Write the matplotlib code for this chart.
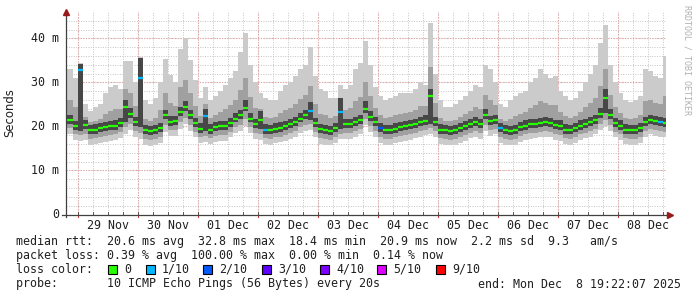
import datetime as dt
import numpy as np
import matplotlib
matplotlib.use('Agg')
import matplotlib.pyplot as plt
import matplotlib.dates as mdates
from matplotlib.patches import Rectangle

# 2 hour steps, 28 Nov 20:00 .. 08 Dec 18:00
median = [21.5, 20.0, 32.8, 20.3, 19.1, 19.3, 19.6, 19.8, 20.0, 20.2, 20.7, 24.5,
          22.9, 21.0, 31.0, 19.1, 18.9, 19.1, 19.6, 22.5, 21.1, 21.2, 23.2, 24.4,
          22.5, 20.8, 19.5, 22.4, 19.3, 19.8, 20.1, 20.1, 20.8, 21.8, 22.5, 24.3,
          21.8, 20.5, 21.5, 19.3, 19.2, 19.5, 19.7, 20.0, 20.5, 21.0, 21.8, 22.5,
          23.5, 20.8, 19.4, 19.1, 19.0, 19.6, 23.3, 20.5, 20.5, 21.0, 21.5, 24.0,
          22.2, 21.0, 19.6, 19.2, 19.2, 19.5, 19.8, 20.0, 20.3, 20.6, 21.0, 21.3,
          27.0, 21.0, 19.3, 19.2, 19.0, 19.1, 19.6, 20.1, 20.6, 21.0, 20.5, 22.5,
          21.2, 21.5, 19.6, 19.1, 19.0, 19.2, 19.8, 20.2, 20.5, 20.6, 20.8, 21.0,
          20.8, 20.3, 20.0, 19.3, 19.1, 19.6, 20.2, 20.6, 21.0, 21.5, 22.8, 26.5,
          22.5, 20.8, 20.2, 19.3, 19.1, 19.2, 19.6, 21.0, 21.5, 21.2, 21.0, 20.8]
loss = [0, 0, 1, 0, 0, 0, 0, 0, 0, 0, 0, 0,
        0, 0, 1, 0, 0, 0, 0, 0, 0, 0, 0, 0,
        0, 0, 0, 1, 0, 0, 0, 0, 0, 0, 0, 0,
        0, 0, 0, 1, 0, 0, 0, 0, 0, 0, 0, 0,
        1, 0, 0, 0, 0, 0, 1, 0, 0, 0, 0, 0,
        0, 0, 2, 0, 0, 0, 0, 0, 0, 0, 0, 0,
        0, 0, 0, 0, 0, 0, 0, 0, 0, 0, 0, 0,
        0, 0, 1, 0, 0, 0, 0, 0, 0, 0, 0, 0,
        0, 0, 0, 0, 0, 0, 0, 0, 0, 0, 0, 0,
        0, 0, 0, 0, 0, 0, 0, 0, 0, 0, 1, 0]
smoke_max = [33.0, 31.0, 34.5, 25.0, 23.6, 24.4, 25.2, 27.5, 29.0, 29.4, 28.6, 34.8,
             34.8, 30.0, 35.7, 25.9, 25.0, 26.4, 30.0, 35.3, 31.7, 30.0, 37.7, 40.0,
             35.0, 30.5, 26.5, 29.0, 26.0, 27.0, 28.0, 29.5, 31.0, 32.5, 37.0, 41.3,
             34.0, 30.0, 27.5, 26.5, 26.0, 26.0, 28.0, 29.5, 30.0, 31.5, 33.0, 34.0,
             38.0, 31.5, 28.5, 28.0, 26.4, 26.5, 29.5, 28.5, 29.5, 33.0, 34.5, 39.5,
             34.0, 29.0, 27.0, 26.0, 26.5, 27.0, 27.5, 27.5, 27.5, 28.5, 30.0, 29.5,
             43.5, 32.0, 26.0, 24.5, 24.5, 25.0, 26.0, 27.0, 28.0, 29.5, 29.0, 34.0,
             33.0, 30.0, 25.0, 24.5, 26.0, 27.0, 27.5, 28.0, 30.0, 31.0, 33.0, 32.0,
             31.0, 31.5, 28.0, 27.0, 26.0, 26.5, 28.0, 30.0, 32.0, 34.0, 39.0, 43.0,
             34.0, 30.0, 27.5, 26.0, 25.5, 26.0, 27.0, 33.0, 32.5, 31.5, 31.0, 36.0]
smoke_hi = [26.0, 24.4, 34.0, 22.2, 20.9, 21.3, 21.8, 22.9, 23.6, 23.9, 23.9, 28.6,
            27.7, 24.6, 34.5, 21.8, 21.3, 22.0, 23.8, 27.6, 25.3, 24.7, 29.0, 30.6,
            27.5, 24.7, 22.3, 25.0, 22.0, 22.7, 23.3, 23.9, 24.9, 26.1, 28.3, 31.1,
            26.7, 24.3, 23.9, 22.2, 21.9, 22.1, 23.0, 23.8, 24.3, 25.2, 26.3, 27.1,
            29.3, 25.1, 22.8, 22.7, 22.0, 22.4, 25.8, 23.7, 24.1, 25.8, 26.7, 30.2,
            26.9, 24.2, 22.6, 21.9, 22.1, 22.5, 22.9, 23.0, 23.2, 23.8, 24.6, 24.6,
            33.4, 25.4, 22.0, 21.3, 21.2, 21.5, 22.2, 22.9, 23.6, 24.4, 23.9, 27.1,
            25.9, 24.9, 21.8, 21.3, 21.8, 22.3, 22.9, 23.3, 24.3, 24.8, 25.7, 25.4,
            24.9, 24.8, 23.2, 22.4, 21.9, 22.4, 23.3, 24.4, 25.4, 26.5, 29.3, 33.1,
            27.1, 24.5, 23.1, 22.0, 21.7, 21.9, 22.6, 25.8, 25.9, 25.3, 25.0, 26.9]
dark_hi = [22.7, 21.2, 34.2, 21.5, 20.3, 20.5, 20.8, 21.0, 21.2, 21.4, 21.9, 26.0,
           24.3, 22.2, 35.5, 20.3, 20.1, 20.3, 20.8, 23.8, 22.3, 22.4, 24.5, 25.8,
           23.8, 22.0, 20.7, 24.0, 20.5, 21.0, 21.3, 21.3, 22.0, 23.0, 23.8, 26.0,
           23.0, 21.7, 23.5, 20.5, 20.4, 20.7, 20.9, 21.2, 21.7, 22.2, 23.0, 23.7,
           25.5, 22.0, 20.6, 20.3, 20.2, 20.8, 26.5, 21.7, 21.7, 22.2, 22.7, 25.8,
           23.4, 22.2, 20.8, 20.4, 20.4, 20.7, 21.0, 21.2, 21.5, 21.8, 22.2, 22.5,
           28.5, 22.2, 20.5, 20.4, 20.2, 20.3, 20.8, 21.3, 21.8, 22.2, 21.7, 24.0,
           22.4, 22.7, 20.8, 20.3, 20.2, 20.4, 21.0, 21.4, 21.7, 21.8, 22.0, 22.2,
           22.0, 21.5, 21.5, 20.5, 20.3, 20.8, 21.4, 21.8, 22.2, 22.7, 24.3, 28.5,
           24.0, 22.0, 21.4, 20.5, 20.3, 20.4, 20.8, 22.2, 22.7, 22.4, 22.2, 22.0]
dark_lo = [20.6, 19.1, 19.0, 19.4, 18.2, 18.4, 18.7, 18.9, 19.1, 19.3, 19.8, 21.0,
           22.0, 20.1, 19.8, 18.2, 18.0, 18.2, 18.7, 21.6, 20.2, 20.3, 22.3, 23.5,
           21.6, 19.9, 18.6, 19.0, 18.4, 18.9, 19.2, 19.2, 19.9, 20.9, 21.6, 23.4,
           20.9, 19.6, 19.5, 18.4, 18.3, 18.6, 18.8, 19.1, 19.6, 20.1, 20.9, 21.6,
           21.5, 19.9, 18.5, 18.2, 18.1, 18.7, 19.5, 19.6, 19.6, 20.1, 20.6, 23.1,
           21.3, 20.1, 18.7, 18.3, 18.3, 18.6, 18.9, 19.1, 19.4, 19.7, 20.1, 20.4,
           20.5, 20.1, 18.4, 18.3, 18.1, 18.2, 18.7, 19.2, 19.7, 20.1, 19.6, 21.6,
           20.3, 20.6, 18.7, 18.2, 18.1, 18.3, 18.9, 19.3, 19.6, 19.7, 19.9, 20.1,
           19.9, 19.4, 19.1, 18.4, 18.2, 18.7, 19.3, 19.7, 20.1, 20.6, 21.9, 23.0,
           21.6, 19.9, 19.3, 18.4, 18.2, 18.3, 18.7, 20.1, 20.6, 20.3, 20.1, 19.9]
smoke_lo = [19.6, 18.2, 18.0, 18.3, 17.2, 17.3, 17.6, 17.8, 18.0, 18.2, 18.7, 19.8,
            20.6, 19.0, 18.5, 17.1, 16.9, 17.1, 17.6, 20.3, 19.1, 19.2, 21.0, 22.0,
            20.3, 18.8, 17.5, 17.8, 17.3, 17.8, 18.1, 18.1, 18.8, 19.8, 20.3, 21.8,
            19.8, 18.5, 18.3, 17.3, 17.2, 17.5, 17.7, 18.0, 18.5, 19.0, 19.8, 20.3,
            20.5, 18.8, 17.4, 17.1, 17.0, 17.6, 18.4, 18.5, 18.5, 19.0, 19.5, 21.7,
            20.1, 19.0, 17.6, 17.2, 17.2, 17.5, 17.8, 18.0, 18.3, 18.6, 19.0, 19.3,
            19.6, 19.0, 17.3, 17.2, 17.0, 17.1, 17.6, 18.1, 18.6, 19.0, 18.5, 20.3,
            19.2, 19.5, 17.6, 17.1, 17.0, 17.2, 17.8, 18.2, 18.5, 18.6, 18.8, 19.0,
            18.8, 18.3, 18.0, 17.3, 17.1, 17.6, 18.2, 18.6, 19.0, 19.5, 20.6, 21.5,
            20.3, 18.8, 18.2, 17.3, 17.1, 17.2, 17.6, 19.0, 19.5, 19.2, 19.0, 18.8]
smoke_min = [18.2, 16.9, 16.8, 17.0, 15.9, 16.0, 16.3, 16.5, 16.7, 16.9, 17.4, 18.3,
             19.2, 17.7, 17.2, 15.8, 15.6, 15.8, 16.3, 18.8, 17.8, 17.9, 19.5, 20.5,
             18.9, 17.5, 16.2, 16.5, 16.0, 16.5, 16.8, 16.8, 17.5, 18.5, 19.0, 20.2,
             18.5, 17.2, 17.0, 16.0, 15.9, 16.2, 16.4, 16.7, 17.2, 17.7, 18.5, 19.0,
             19.2, 17.5, 16.1, 15.8, 15.7, 16.3, 17.1, 17.2, 17.2, 17.7, 18.2, 20.3,
             18.8, 17.7, 16.3, 15.9, 15.9, 16.2, 16.5, 16.7, 17.0, 17.3, 17.7, 18.0,
             18.3, 17.7, 16.0, 15.9, 15.7, 15.8, 16.3, 16.8, 17.3, 17.7, 17.2, 19.0,
             17.9, 18.2, 16.3, 15.8, 15.7, 15.9, 16.5, 16.9, 17.2, 17.3, 17.5, 17.7,
             17.5, 17.0, 16.7, 16.0, 15.8, 16.3, 16.9, 17.3, 17.7, 18.2, 19.2, 20.0,
             18.9, 17.5, 16.9, 16.0, 15.8, 15.9, 16.3, 17.7, 18.2, 17.9, 17.7, 17.5]

loss_colors = {0: '#26ff00', 1: '#00b8ff', 2: '#0059ff', 3: '#5e00ff',
               4: '#7e00ff', 5: '#dd00ff', 9: '#ff0000'}
legend_items = ['0', '1/10', '2/10', '3/10', '4/10', '5/10', '9/10']
legend_keys = [0, 1, 2, 3, 4, 5, 9]
day_labels = ['29 Nov', '30 Nov', '01 Dec', '02 Dec', '03 Dec',
              '04 Dec', '05 Dec', '06 Dec', '07 Dec', '08 Dec']
yticks = [0, 10, 20, 30, 40]
ylabels = ['0', '10 m', '20 m', '30 m', '40 m']

start = dt.datetime(2025, 11, 28, 19, 22, 7)
end = dt.datetime(2025, 12, 8, 19, 22, 7)
first = dt.datetime(2025, 11, 28, 20, 0)
n = len(median)
edges = [start] + [first + dt.timedelta(hours=2 * k) for k in range(1, n)] + [end]
x = mdates.date2num(edges)

mono = 'DejaVu Sans Mono'
W, H = 697, 297
fig = plt.figure(figsize=(W / 100, H / 100), dpi=100)
ax = fig.add_axes([66 / W, (H - 214.5) / H, 600 / W, 202.5 / H])
ax.set_xlim(x[0], x[-1])
ax.set_ylim(0, 46)

def ext(a):
    return np.append(a, a[-1])

ax.fill_between(x, ext(smoke_min), ext(smoke_max), step='post', color='#cbcbcb', lw=0, zorder=2)
ax.fill_between(x, ext(smoke_lo), ext(smoke_hi), step='post', color='#a0a0a0', lw=0, zorder=3)
ax.fill_between(x, ext(dark_lo), ext(dark_hi), step='post', color='#474747', lw=0, zorder=4)
ax.hlines(median, x[:-1], x[1:], colors=[loss_colors[l] for l in loss], lw=1.6, zorder=5)

# grid
minor_x = mdates.date2num([dt.datetime(2025, 11, 29) + dt.timedelta(hours=6 * k) for k in range(-1, 40)])
minor_x = minor_x[(minor_x > x[0]) & (minor_x < x[-1])]
major_x = mdates.date2num([dt.datetime(2025, 11, 29) + dt.timedelta(days=k) for k in range(10)])
for v in minor_x:
    ax.axvline(v, color='#c4c4c4', lw=0.7, ls=(0, (1, 1.5)), zorder=1)
for v in np.arange(2, 46, 2):
    ax.axhline(v, color='#c4c4c4', lw=0.7, ls=(0, (1, 1.5)), zorder=1)
for v in major_x:
    ax.axvline(v, color='#e8a0a0', lw=0.8, ls=(0, (1, 1.5)), zorder=1.5)
for v in yticks[1:]:
    ax.axhline(v, color='#e8a0a0', lw=0.8, ls=(0, (1, 1.5)), zorder=1.5)

for s in ax.spines.values():
    s.set_visible(False)
ax.set_xticks([])
ax.set_yticks([])

# axes with arrows
ax.plot([0, 0], [-0.012, 1.0], color='#404040', lw=0.9, transform=ax.transAxes, clip_on=False, zorder=6)
ax.plot([-0.006, 1.0], [0, 0], color='#404040', lw=0.9, transform=ax.transAxes, clip_on=False, zorder=6)
ax.plot([0], [1.0], marker='^', ms=4, color='#9a1a1a', transform=ax.transAxes, clip_on=False, zorder=7)
ax.plot([1.0065], [0], marker='>', ms=4, color='#9a1a1a', transform=ax.transAxes, clip_on=False, zorder=7)
for v in major_x:
    ax.plot([v, v], [0, -0.5], color='#c04040', lw=0.8, clip_on=False, zorder=6)
for v in minor_x:
    ax.plot([v, v], [0, 0.5], color='#404040', lw=0.6, clip_on=False, zorder=6)

for v, lab in zip(yticks, ylabels):
    ax.text(-0.011, v, lab, transform=ax.get_yaxis_transform(), ha='right', va='center',
            fontsize=8.4, family=mono, color='#202020')
for k, lab in enumerate(day_labels):
    ax.text(major_x[k] + 0.5, -2.4, lab, ha='center', va='center', fontsize=8.4,
            family=mono, color='#202020')

fig.text(10 / W, 1 - 113 / H, 'Seconds', rotation=90, ha='center', va='center',
         fontsize=8.4, family='DejaVu Sans', color='#202020')
fig.text(687 / W, 1 - 5 / H, 'RRDTOOL / TOBI OETIKER', rotation=-90, ha='center', va='top',
         fontsize=6, family=mono, color='#b0b0b0')

rows = ['median rtt:  20.6 ms avg  32.8 ms max  18.4 ms min  20.9 ms now  2.2 ms sd  9.3   am/s',
        'packet loss: 0.39 % avg  100.00 % max  0.00 % min  0.14 % now',
        'loss color:',
        'probe:       10 ICMP Echo Pings (56 Bytes) every 20s']
for k, r in enumerate(rows):
    fig.text(16 / W, 1 - (241 + 14.3 * k) / H, r, ha='left', va='center',
             fontsize=8.4, family=mono, color='#202020')
fig.text(681 / W, 1 - 284 / H, 'end: Mon Dec  8 19:22:07 2025', ha='right', va='center',
         fontsize=8.4, family=mono, color='#202020')

box_x = [108, 146, 203, 262, 320, 377, 436]
for bx, key, lab in zip(box_x, legend_keys, legend_items):
    fig.add_artist(Rectangle((bx / W, 1 - 274 / H), 9 / W, 9 / H, transform=fig.transFigure,
                             facecolor=loss_colors[key], edgecolor='black', lw=0.8))
    fig.text((bx + 16) / W, 1 - 269.5 / H, lab, ha='left', va='center',
             fontsize=8.4, family=mono, color='#202020')

fig.savefig('out.png', dpi=100, facecolor='white')
